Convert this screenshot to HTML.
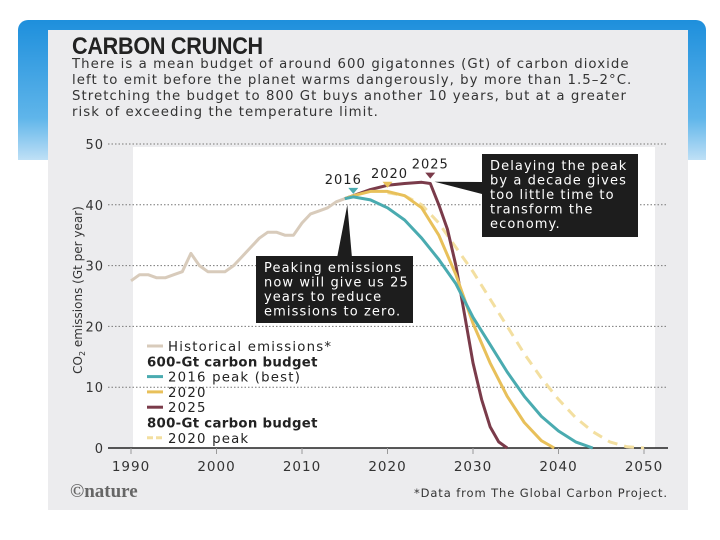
<!DOCTYPE html>
<html><head><meta charset="utf-8"><style>
body{margin:0;width:720px;height:540px;background:#fff;overflow:hidden;position:relative;font-family:"DejaVu Sans","Liberation Sans",sans-serif}
#bg{position:absolute;left:18px;top:20px;width:688px;height:140px;border-radius:10px 10px 0 0;background:linear-gradient(#1e8fdc,#5fb5ea 70%,#bfe0f6)}
#panel{position:absolute;left:48px;top:30px;width:640px;height:480px;background:#ececee}
.t{position:absolute;color:#222}
</style></head><body>
<div id="bg"></div>
<div id="panel"></div>
<div class="t" style="left:72px;top:33px;font-family:'Liberation Sans',sans-serif;font-size:24px;font-weight:bold;letter-spacing:-0.3px;transform:scaleX(0.9);transform-origin:left">CARBON CRUNCH</div>
<div class="t" style="left:72px;top:57px;font-size:13.3px;line-height:16px;color:#333;white-space:nowrap;letter-spacing:1.05px">There is a mean budget of around 600 gigatonnes (Gt) of carbon dioxide<br>left to emit before the planet warms dangerously, by more than 1.5–2°C.<br>Stretching the budget to 800 Gt buys another 10 years, but at a greater<br>risk of exceeding the temperature limit.</div>
<svg id="chart" width="720" height="540" style="position:absolute;left:0;top:0"></svg>
<script>
const histYears=[1990,1991,1992,1993,1994,1995,1996,1997,1998,1999,2000,2001,2002,2003,2004,2005,2006,2007,2008,2009,2010,2011,2012,2013,2014,2015];
const histVals=[27.5,28.5,28.5,28,28,28.5,29,32,30,29,29,29,30,31.5,33,34.5,35.5,35.5,35,35,37,38.5,39,39.5,40.5,41];
const p2016Years=[2015,2016,2018,2020,2022,2024,2026,2028,2030,2032,2034,2036,2038,2040,2042,2044];
const p2016Vals=[41,41.3,40.8,39.5,37.5,34.5,31,27,21.5,17,12.5,8.5,5.2,2.8,1,0];
const p2020Years=[2015,2016,2018,2020,2022,2024,2026,2028,2030,2032,2034,2036,2038,2039.5];
const p2020Vals=[41,41.5,42.2,42.2,41.5,39.5,35,28.5,20.5,14,8.5,4.2,1.2,0];
const p2025Years=[2015,2016,2018,2020,2022,2024,2025,2026,2027,2028,2029,2030,2031,2032,2033,2034];
const p2025Vals=[41,41.5,42.5,43.2,43.5,43.7,43.5,40,36,30,22,14,8,3.5,1,0];
const b800Years=[2020,2022,2024,2026,2028,2030,2032,2034,2036,2038,2040,2042,2044,2046,2048,2050];
const b800Vals=[42,41.5,40,37,33,29,24.5,20,15.5,11.5,8,5,2.7,1,0.2,0];
const yTicks=[0,10,20,30,40,50];
const xTicks=[1990,2000,2010,2020,2030,2040,2050];
const NS='http://www.w3.org/2000/svg';
const svg=document.getElementById('chart');
const X=y=>131+(y-1990)*8.55;
const Y=v=>448-v*6.08;
function mk(tag,attrs,parent){const e=document.createElementNS(NS,tag);for(const k in attrs)e.setAttribute(k,attrs[k]);(parent||svg).appendChild(e);return e;}
let e=mk('rect',{x:133,y:147,width:522,height:301,fill:'#fff'});


yTicks.forEach(v=>{
  if(v>0){const l=mk('line',{x1:108,x2:668,y1:Y(v),y2:Y(v),stroke:'#777','stroke-width':1,'stroke-dasharray':'1.5 2'});
  
  }
  const t=mk('text',{x:104,y:Y(v)+5,'text-anchor':'end','font-size':13,fill:'#333','letter-spacing':1});t.textContent=v;
  
  
});
e=mk('line',{x1:108,x2:668,y1:Y(0),y2:Y(0),stroke:'#222','stroke-width':1.5});


xTicks.forEach(v=>{
  mk('line',{x1:X(v),x2:X(v),y1:Y(0),y2:Y(0)+6,stroke:'#999'});
  const t=mk('text',{x:X(v),y:Y(0)+23,'text-anchor':'middle','font-size':13.5,fill:'#333','letter-spacing':1});t.textContent=v;
  
  
});
function line(xs,vs,color,name,dash){
  const d=xs.map((x,i)=>(i?'L':'M')+X(x).toFixed(1)+' '+Y(vs[i]).toFixed(1)).join('');
  const p=mk('path',{d:d,fill:'none',stroke:color,'stroke-width':3,'stroke-linejoin':'round'});
  if(dash)p.setAttribute('stroke-dasharray',dash);
  
  
}
line(b800Years,b800Vals,'#f3dfa0','line-800gt-2020','10 7');
line(histYears,histVals,'#d8cbbb','line-historical');
line(p2025Years,p2025Vals,'#7a3b4a','line-2025-peak');
line(p2020Years,p2020Vals,'#e8c05a','line-2020-peak');
line(p2016Years,p2016Vals,'#4aabb0','line-2016-peak');
[[2016,41.8,'#4aabb0','2016',-10],[2020,42.8,'#e8c05a','2020',2],[2025,44.3,'#7a3b4a','2025',0]].forEach(a=>{
  const x=X(a[0]),y=Y(a[1]);
  const m=mk('path',{d:`M${x-5} ${y-6}L${x+5} ${y-6}L${x} ${y}Z`,fill:a[2]});
  
  
  const t=mk('text',{x:x+a[4],y:y-10,'text-anchor':'middle','font-size':13,fill:'#222','letter-spacing':1});t.textContent=a[3];
  
  
});
mk('path',{d:`M${X(2015.3)} ${Y(40)}L337 258L352 258Z`,fill:'#1d1d1d'});
mk('path',{d:`M${X(2025.5)} ${Y(43.8)}L482 182L482 194Z`,fill:'#1d1d1d'});
function box(x,y,w,h,lines,name){
  const r=mk('rect',{x:x,y:y,width:w,height:h,fill:'#1d1d1d'});
  
  
  lines.forEach((s,i)=>{const t=mk('text',{x:x+8,y:y+16+i*14.5,'font-size':13,fill:'#fff','letter-spacing':1.1});t.textContent=s;});
}
box(256,256,157,67,['Peaking emissions','now will give us 25','years to reduce','emissions to zero.'],'annotation-2016');
box(482,154,156,83,['Delaying the peak','by a decade gives','too little time to','transform the','economy.'],'annotation-2025');
const yl=mk('text',{transform:'translate(82,290) rotate(-90)','text-anchor':'middle','font-size':12,fill:'#333'});
yl.innerHTML='CO<tspan font-size="8" dy="3">2</tspan><tspan dy="-3"> emissions (Gt per year)</tspan>';


const leg=[['Historical emissions*','#d8cbbb',0],['600-Gt carbon budget',null,1],['2016 peak (best)','#4aabb0',0],['2020','#e8c05a',0],['2025','#7a3b4a',0],['800-Gt carbon budget',null,1],['2020 peak','#f3dfa0',2]];
leg.forEach((l,i)=>{
  const y=346+i*15.3;
  if(l[1]){const ln=mk('line',{x1:147,x2:163,y1:y,y2:y,stroke:l[1],'stroke-width':3});if(l[2]==2)ln.setAttribute('stroke-dasharray','6 3');}
  const t=mk('text',{x:l[1]?168:147,y:y+5,'font-size':13.3,fill:'#222','font-weight':l[2]==1?'bold':'normal','letter-spacing':l[2]==1?0.3:1.2});t.textContent=l[0];
  
  
});
let t=mk('text',{x:70,y:497,'font-size':19,fill:'#666','font-family':'Liberation Serif','font-weight':'bold'});t.textContent='©nature';


t=mk('text',{x:668,y:497,'text-anchor':'end','font-size':11.5,fill:'#333','letter-spacing':0.9});t.textContent='*Data from The Global Carbon Project.';


</script>
</body></html>
